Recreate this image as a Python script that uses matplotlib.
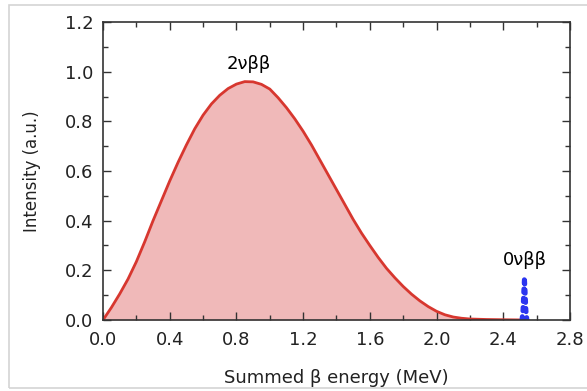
import matplotlib
matplotlib.use('Agg')
from matplotlib import pyplot as plt
from matplotlib.patches import Rectangle
from matplotlib.ticker import MultipleLocator

plt.rcParams['font.family'] = ['DejaVu Sans']

# 2-neutrino spectrum
energy_2v = [0.0, 0.05, 0.1, 0.15, 0.2, 0.25, 0.3, 0.35, 0.4, 0.45, 0.5, 0.55,
             0.6, 0.65, 0.7, 0.75, 0.8, 0.85, 0.9, 0.95, 1.0, 1.05, 1.1, 1.15,
             1.2, 1.25, 1.3, 1.35, 1.4, 1.45, 1.5, 1.55, 1.6, 1.65, 1.7, 1.75,
             1.8, 1.85, 1.9, 1.95, 2.0, 2.05, 2.1, 2.15, 2.2, 2.3, 2.4, 2.53]
intensity_2v = [0.0, 0.05, 0.105, 0.165, 0.235, 0.315, 0.40, 0.48, 0.56, 0.635, 0.705, 0.77,
                0.825, 0.87, 0.905, 0.932, 0.95, 0.96, 0.959, 0.949, 0.93, 0.895, 0.855, 0.81,
                0.76, 0.705, 0.645, 0.585, 0.525, 0.465, 0.405, 0.35, 0.30, 0.252, 0.208, 0.17,
                0.135, 0.104, 0.077, 0.054, 0.035, 0.021, 0.012, 0.007, 0.004, 0.002, 0.001, 0.0]

# 0-neutrino peak
energy_0v = [2.512, 2.518, 2.523, 2.527, 2.531, 2.536, 2.542]
intensity_0v = [0.0, 0.04, 0.12, 0.172, 0.12, 0.04, 0.0]

fig = plt.figure(figsize=(5.87, 3.91), dpi=100)
fig.patches.append(Rectangle((9 / 587, 3 / 391), 1.0, 383 / 391, transform=fig.transFigure,
                             fill=False, edgecolor='#d4d4d4', linewidth=1.2))
ax = fig.add_axes([0.1755, 0.1816, 0.7955, 0.7621])

ax.fill_between(energy_2v, intensity_2v, color='#f0b9b9', linewidth=0)
ax.plot(energy_2v, intensity_2v, color='#d7372f', linewidth=2)
ax.plot(energy_0v, intensity_0v, color='#2b35f0', linewidth=3.5,
        linestyle=(0, (0.7, 1.2)), dash_capstyle='round')

ax.text(0.875, 0.995, '2\u03bd\u03b2\u03b2', ha='center', va='bottom', fontsize=13)
ax.text(2.53, 0.205, '0\u03bd\u03b2\u03b2', ha='center', va='bottom', fontsize=13)

ax.set_xlim(0, 2.8)
ax.set_ylim(0, 1.2)
ax.xaxis.set_major_locator(MultipleLocator(0.4))
ax.xaxis.set_minor_locator(MultipleLocator(0.2))
ax.yaxis.set_major_locator(MultipleLocator(0.2))
ax.yaxis.set_minor_locator(MultipleLocator(0.1))
ax.xaxis.set_major_formatter(plt.FormatStrFormatter('%.1f'))
ax.yaxis.set_major_formatter(plt.FormatStrFormatter('%.1f'))
ax.tick_params(which='both', direction='in', top=True, right=True, labelsize=13,
               color='#333333', labelcolor='#222222')
ax.tick_params(axis='y', which='major', pad=7)
ax.tick_params(axis='x', which='major', pad=8)
ax.tick_params(which='major', length=6, width=1)
ax.tick_params(which='minor', length=3.5, width=1)
for spine in ax.spines.values():
    spine.set_linewidth(1.2)
    spine.set_color('#333333')

ax.set_xlabel('Summed \u03b2 energy (MeV)', fontsize=13, labelpad=14, color='#222222')
ax.set_ylabel('Intensity (a.u.)', fontsize=12, labelpad=17, color='#222222')

fig.savefig('out.png', dpi=100)
